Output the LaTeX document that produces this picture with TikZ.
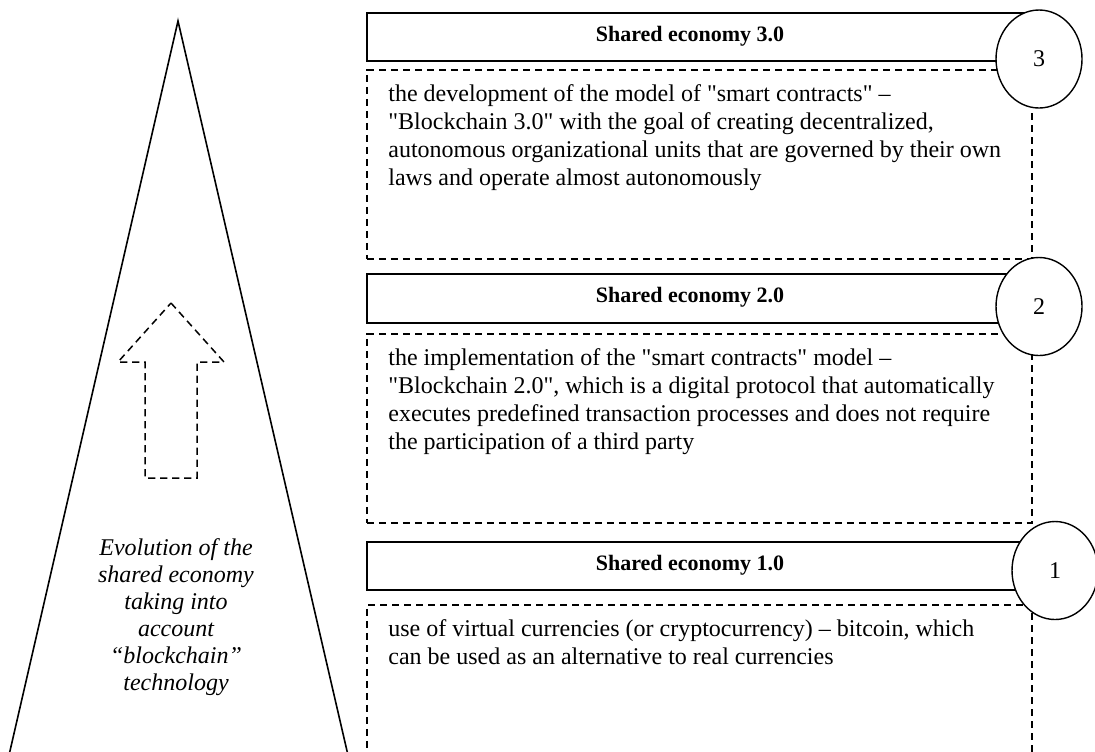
\documentclass[tikz,border=0pt]{standalone}
\usepackage{fontspec}
\setmainfont{Liberation Serif}[Ligatures=TeXOff]
\usetikzlibrary{shapes.geometric}

\tikzset{
  hdrbox/.style={draw, line width=0.9pt, rectangle, anchor=north west, inner sep=0pt},
  hdrtext/.style={font=\fontsize{11}{13}\selectfont\bfseries, inner sep=0pt},
  dbox/.style={draw, line width=0.75pt, dash pattern=on 3.6pt off 2.4pt, rectangle, anchor=north west, inner sep=0pt},
  bodytext/.style={font=\fontsize{12}{14}\selectfont, align=left, anchor=north west, inner sep=0pt},
  numcirc/.style={draw, line width=0.7pt, ellipse, fill=white, minimum width=43pt, minimum height=49pt, inner sep=0pt, font=\fontsize{12}{14}\selectfont},
  evotext/.style={font=\fontsize{12}{13.5}\selectfont\itshape, align=center, anchor=north, inner sep=0pt},
  outline/.style={line width=0.8pt, line join=miter},
  uparrow/.style={line width=0.75pt, dash pattern=on 3.6pt off 2.4pt}
}

\begin{document}
\begin{tikzpicture}[x=0.5pt, y=-0.5pt]
  \useasboundingbox (0,0) rectangle (1095,751);
  \fill[white] (0,0) rectangle (1095,751);
  \clip (0,0) rectangle (1095,751);

  % tall triangle on the left
  \draw[outline] (7.9,760) -- (178,21) -- (349.1,760);

  % dashed upward arrow inside the triangle
  \draw[uparrow] (171,303) -- (224,362) -- (197,362) -- (197,478)
                 -- (145,478) -- (145,362) -- (118,362) -- cycle;

  \node[evotext] (evo) at (176,538) {Evolution of the\\shared economy\\taking into\\account\\“blockchain”\\technology};

  % stage 3
  \node[hdrbox, minimum width=337pt, minimum height=24pt] (h3) at (366,12) {};
  \node[hdrtext] (s3) at (690,36) {Shared economy 3.0};
  \node[dbox, minimum width=332.5pt, minimum height=94.5pt] (d3) at (366,69) {};
  \node[bodytext] (t3) at (388,84) {the development of the model of "smart contracts" –\\"Blockchain 3.0" with the goal of creating decentralized,\\autonomous organizational units that are governed by their own\\laws and operate almost autonomously};
  \node[numcirc] (c3) at (1039,59) {3};

  % stage 2
  \node[hdrbox, minimum width=337pt, minimum height=24.5pt] (h2) at (366,273) {};
  \node[hdrtext] (s2) at (690,297.5) {Shared economy 2.0};
  \node[dbox, minimum width=332.5pt, minimum height=94.5pt] (d2) at (366,333) {};
  \node[bodytext] (t2) at (388,348) {the implementation of the "smart contracts" model –\\"Blockchain 2.0", which is a digital protocol that automatically\\executes predefined transaction processes and does not require\\the participation of a third party};
  \node[numcirc] (c2) at (1039,306.5) {2};

  % stage 1
  \node[hdrbox, minimum width=345pt, minimum height=24pt] (h1) at (366,541) {};
  \node[hdrtext] (s1) at (690,565) {Shared economy 1.0};
  \node[dbox, minimum width=332.5pt, minimum height=83pt] (d1) at (366,604) {};
  \node[bodytext] (t1) at (388,619) {use of virtual currencies (or cryptocurrency) – bitcoin, which\\can be used as an alternative to real currencies};
  \node[numcirc] (c1) at (1055,570.5) {1};
\end{tikzpicture}
\end{document}
